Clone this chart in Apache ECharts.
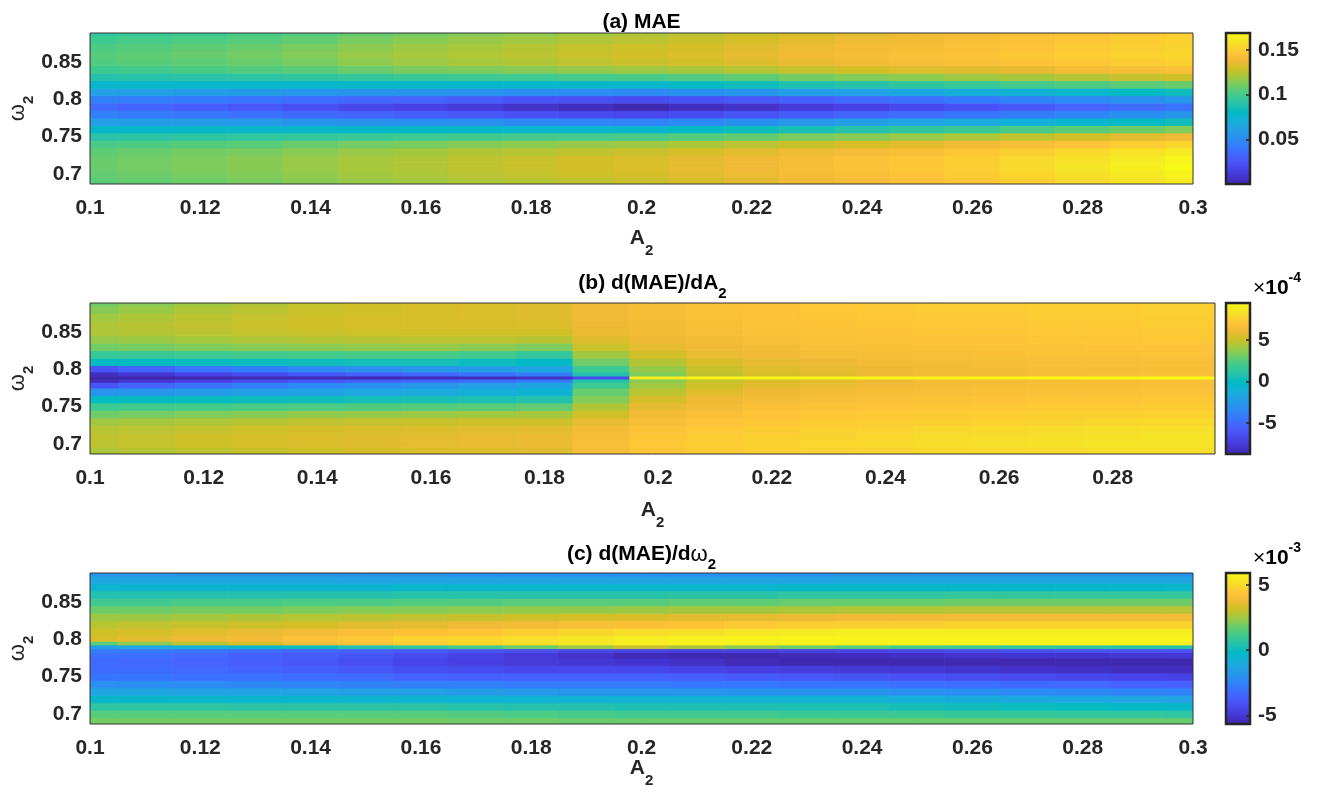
<!DOCTYPE html>
<html>
<head>
<meta charset="utf-8">
<script src="https://cdn.jsdelivr.net/npm/echarts@6/dist/echarts.min.js"></script>
<style>
  html, body { margin: 0; padding: 0; background: #ffffff; }
  #chart { width: 1320px; height: 792px; }
</style>
</head>
<body>
<div id="chart"></div>
<script>
// ---- sample grid -------------------------------------------------------
const A_COLS   = [0.10,0.11,0.12,0.13,0.14,0.15,0.16,0.17,0.18,0.19,0.20,0.21,0.22,0.23,0.24,0.25,0.26,0.27,0.28,0.29,0.30];
const A_COLS_B = [0.10,0.11,0.12,0.13,0.14,0.15,0.16,0.17,0.18,0.19,0.20,0.21,0.22,0.23,0.24,0.25,0.26,0.27,0.28,0.29];
const OMEGA_ROWS   = [0.69,0.70,0.71,0.72,0.73,0.74,0.75,0.76,0.77,0.78,0.79,0.80,0.81,0.82,0.83,0.84,0.85,0.86,0.87,0.88,0.89];
const OMEGA_ROWS_B = [0.69,0.70,0.71,0.72,0.73,0.74,0.75,0.76,0.77,0.78,0.785,0.789,0.793,0.80,0.81,0.82,0.83,0.84,0.85,0.86,0.87,0.88,0.89];
const OMEGA_ROWS_C = [0.69,0.70,0.71,0.72,0.73,0.74,0.75,0.76,0.77,0.78,0.785,0.79,0.795,0.80,0.81,0.82,0.83,0.84,0.85,0.86,0.87,0.88,0.89];

// ---- (a) MAE, one row per omega_2 (ascending), one column per A_2 ------
const MAE = [
  [.105,.107,.109,.111,.114,.117,.119,.121,.123,.125,.127,.130,.133,.136,.139,.142,.146,.150,.154,.158,.162],
  [.107,.109,.111,.113,.116,.119,.121,.124,.126,.128,.130,.133,.136,.139,.142,.145,.149,.153,.157,.162,.166],
  [.108,.110,.112,.114,.117,.120,.122,.125,.127,.129,.131,.134,.137,.140,.143,.146,.150,.154,.159,.164,.168],
  [.108,.110,.112,.114,.117,.120,.122,.125,.127,.129,.131,.134,.137,.140,.143,.146,.150,.154,.158,.162,.166],
  [.106,.108,.110,.111,.114,.117,.119,.122,.123,.125,.127,.130,.133,.136,.139,.142,.146,.150,.154,.158,.162],
  [.101,.102,.104,.105,.108,.110,.111,.114,.115,.117,.118,.121,.124,.127,.130,.133,.137,.141,.145,.149,.153],
  [.091,.092,.093,.094,.095,.097,.098,.099,.100,.100,.101,.104,.107,.111,.114,.117,.121,.125,.129,.133,.137],
  [.078,.078,.078,.078,.078,.078,.078,.078,.077,.077,.077,.080,.083,.086,.090,.093,.097,.101,.105,.109,.113],
  [.061,.060,.059,.058,.056,.054,.053,.052,.050,.048,.047,.050,.053,.057,.061,.064,.068,.072,.076,.080,.084],
  [.045,.043,.041,.038,.035,.032,.030,.027,.024,.021,.019,.022,.025,.029,.033,.036,.040,.044,.048,.052,.056],
  [.036,.033,.030,.027,.023,.019,.016,.012,.008,.005,.002,.005,.008,.012,.016,.020,.024,.028,.032,.036,.040],
  [.046,.044,.042,.040,.037,.034,.032,.029,.025,.023,.021,.024,.027,.031,.035,.038,.042,.046,.050,.053,.057],
  [.062,.061,.060,.059,.057,.056,.056,.054,.052,.051,.050,.053,.056,.060,.063,.066,.070,.073,.077,.080,.083],
  [.077,.077,.077,.077,.077,.078,.078,.078,.078,.078,.078,.081,.084,.087,.090,.093,.096,.099,.102,.105,.108],
  [.089,.090,.091,.092,.093,.095,.097,.098,.098,.100,.101,.103,.106,.110,.113,.115,.118,.120,.123,.126,.128],
  [.098,.099,.101,.103,.105,.108,.111,.112,.114,.116,.118,.120,.123,.126,.129,.131,.133,.135,.139,.141,.143],
  [.103,.105,.106,.108,.111,.115,.118,.120,.122,.125,.127,.129,.132,.135,.138,.140,.142,.144,.147,.149,.151],
  [.104,.106,.108,.110,.113,.117,.120,.122,.124,.127,.129,.131,.134,.137,.140,.142,.144,.146,.149,.151,.153],
  [.102,.104,.106,.108,.111,.115,.118,.120,.123,.126,.128,.130,.133,.136,.139,.141,.143,.145,.148,.150,.152],
  [.098,.100,.102,.104,.107,.111,.114,.117,.119,.122,.124,.127,.130,.133,.136,.138,.141,.143,.146,.149,.151],
  [.094,.096,.098,.100,.103,.107,.110,.113,.116,.119,.121,.124,.127,.130,.133,.136,.139,.141,.144,.147,.149]
];

// ---- (b) d(MAE)/dA_2 in units of 1e-4 ----------------------------------
const DMAE_DA = [
  [4.2,4.4,4.6,4.8,5.0,5.2,5.3,5.4,5.5,6.2,6.9,7.2,7.4,7.5,7.6,7.7,7.8,7.9,8.0,8.0],
  [4.6,4.8,5.0,5.2,5.4,5.5,5.6,5.7,5.8,6.4,7.0,7.3,7.5,7.7,7.8,8.0,8.1,8.2,8.3,8.3],
  [4.7,4.8,5.0,5.2,5.4,5.5,5.6,5.7,5.8,6.3,6.9,7.2,7.4,7.6,7.7,7.9,8.0,8.1,8.2,8.3],
  [4.5,4.6,4.8,5.0,5.2,5.3,5.4,5.5,5.6,6.1,6.7,7.0,7.2,7.4,7.5,7.7,7.8,7.9,8.0,8.1],
  [4.0,4.1,4.3,4.5,4.7,4.8,4.9,5.0,5.0,5.7,6.4,6.8,7.0,7.2,7.3,7.4,7.5,7.6,7.7,7.8],
  [3.0,3.1,3.3,3.5,3.7,3.8,3.9,4.0,4.1,5.1,6.1,6.5,6.8,7.0,7.1,7.2,7.3,7.4,7.4,7.5],
  [1.8,1.9,2.0,2.1,2.2,2.3,2.4,2.5,2.7,4.3,5.7,6.2,6.5,6.7,6.8,6.9,7.0,7.1,7.1,7.2],
  [0.0,0.0,0.1,0.2,0.3,0.4,0.5,0.6,0.8,3.4,5.2,5.9,6.2,6.4,6.6,6.7,6.8,6.9,6.9,7.0],
  [-2.8,-2.6,-2.4,-2.2,-2.0,-1.8,-1.5,-1.2,-0.8,2.8,4.6,5.5,5.9,6.1,6.3,6.4,6.5,6.6,6.6,6.7],
  [-6.0,-5.2,-4.5,-3.9,-3.4,-3.0,-2.6,-2.2,-1.8,1.8,4.0,5.0,5.5,5.8,6.0,6.2,6.3,6.4,6.4,6.5],
  [-8.2,-7.6,-7.0,-6.4,-5.9,-5.4,-5.0,-4.6,-4.0,0.8,3.5,4.8,5.3,5.6,5.9,6.1,6.2,6.3,6.4,6.5],
  [-8.7,-8.6,-8.6,-8.5,-8.5,-8.4,-8.3,-8.2,-8.0,-6.5,8.8,9.0,9.1,9.2,9.2,9.2,9.3,9.3,9.3,9.4],
  [-8.2,-7.6,-7.0,-6.4,-5.9,-5.4,-5.0,-4.6,-4.0,0.8,3.3,4.7,5.3,5.6,5.9,6.1,6.2,6.3,6.4,6.5],
  [-6.0,-5.2,-4.5,-3.9,-3.4,-3.0,-2.6,-2.2,-1.8,1.8,3.8,4.9,5.4,5.7,5.9,6.1,6.2,6.3,6.3,6.4],
  [0.0,0.0,0.1,0.2,0.3,0.4,0.4,0.2,-0.2,3.0,4.4,5.3,5.7,5.9,6.1,6.2,6.3,6.4,6.4,6.5],
  [1.6,1.7,1.8,1.9,2.0,2.1,2.1,1.9,1.5,4.0,5.1,5.7,6.0,6.2,6.3,6.4,6.5,6.6,6.6,6.7],
  [3.0,3.1,3.3,3.5,3.6,3.7,3.8,3.6,3.3,4.9,5.6,6.0,6.2,6.4,6.5,6.6,6.7,6.7,6.8,6.8],
  [3.8,3.9,4.1,4.3,4.4,4.5,4.6,4.6,4.5,5.5,5.9,6.2,6.4,6.6,6.7,6.8,6.8,6.9,6.9,7.0],
  [4.3,4.4,4.6,4.8,4.9,5.0,5.1,5.1,5.1,5.8,6.1,6.4,6.6,6.7,6.8,6.9,6.9,7.0,7.0,7.1],
  [4.3,4.5,4.7,4.9,5.1,5.2,5.3,5.3,5.4,5.9,6.2,6.5,6.7,6.8,6.9,7.0,7.0,7.1,7.1,7.2],
  [4.0,4.3,4.6,4.8,5.0,5.2,5.3,5.4,5.5,6.0,6.3,6.6,6.8,6.9,7.0,7.1,7.1,7.2,7.2,7.3],
  [3.5,3.9,4.3,4.6,4.9,5.1,5.3,5.4,5.5,6.0,6.3,6.6,6.8,7.0,7.1,7.2,7.2,7.3,7.3,7.4],
  [3.0,3.5,4.0,4.4,4.8,5.1,5.3,5.4,5.5,6.0,6.3,6.6,6.8,7.0,7.1,7.2,7.2,7.3,7.3,7.4]
];

// ---- (c) d(MAE)/domega_2 in units of 1e-3 ------------------------------
const DMAE_DW = [
  [1.9,1.9,1.9,1.9,1.9,1.9,1.9,1.8,1.8,1.7,1.7,1.7,1.7,1.7,1.7,1.7,1.7,1.7,1.7,1.7,1.7],
  [1.5,1.5,1.5,1.5,1.5,1.5,1.5,1.4,1.3,1.2,1.1,1.1,1.1,1.0,1.0,1.0,0.9,0.9,0.8,0.8,0.7],
  [0.7,0.7,0.7,0.6,0.6,0.6,0.6,0.5,0.4,0.4,0.3,0.3,0.3,0.3,0.3,0.2,0.1,0.0,-0.1,-0.2,-0.3],
  [-0.3,-0.3,-0.4,-0.4,-0.4,-0.5,-0.5,-0.6,-0.6,-0.7,-0.7,-0.7,-0.7,-0.7,-0.7,-0.8,-0.9,-1.0,-1.1,-1.2,-1.3],
  [-1.2,-1.2,-1.3,-1.3,-1.4,-1.5,-1.5,-1.6,-1.7,-1.8,-1.8,-1.8,-1.9,-1.9,-1.9,-2.0,-2.1,-2.2,-2.3,-2.4,-2.5],
  [-2.1,-2.1,-2.2,-2.3,-2.4,-2.5,-2.6,-2.6,-2.7,-2.7,-2.7,-2.8,-2.8,-2.9,-2.9,-3.0,-3.1,-3.2,-3.3,-3.4,-3.5],
  [-2.9,-2.9,-3.0,-3.0,-3.1,-3.2,-3.4,-3.5,-3.5,-3.5,-3.5,-3.6,-3.7,-3.8,-3.9,-4.0,-4.1,-4.2,-4.3,-4.4,-4.5],
  [-3.2,-3.2,-3.3,-3.4,-3.6,-3.8,-4.1,-4.2,-4.3,-4.3,-4.3,-4.5,-4.6,-4.7,-4.8,-4.9,-5.0,-5.1,-5.2,-5.3,-5.3],
  [-3.2,-3.3,-3.4,-3.6,-3.8,-4.1,-4.4,-4.6,-4.8,-4.9,-5.0,-5.2,-5.4,-5.5,-5.5,-5.5,-5.5,-5.5,-5.5,-5.5,-5.5],
  [-3.0,-3.1,-3.3,-3.5,-3.7,-3.9,-4.2,-4.5,-4.8,-5.1,-5.4,-5.5,-5.5,-5.4,-5.3,-5.2,-5.1,-5.0,-5.0,-4.9,-4.9],
  [-2.6,-2.7,-2.9,-3.1,-3.3,-3.5,-3.7,-3.9,-4.1,-4.3,-4.5,-4.6,-4.6,-4.5,-4.4,-4.3,-4.2,-4.1,-4.0,-4.0,-4.0],
  [-1.5,-1.2,-0.8,-0.4,0.0,0.4,0.8,1.2,1.8,2.4,3.0,2.6,2.2,1.8,1.5,1.2,1.0,0.8,0.7,0.6,0.5],
  [1.5,2.2,2.8,3.3,3.8,4.2,4.5,4.8,5.0,5.3,5.5,5.6,5.6,5.6,5.6,5.6,5.6,5.6,5.6,5.6,5.5],
  [3.3,3.5,3.7,3.9,4.2,4.4,4.7,4.9,5.1,5.3,5.5,5.6,5.7,5.7,5.7,5.7,5.7,5.7,5.7,5.7,5.7],
  [3.1,3.2,3.4,3.6,3.8,4.0,4.1,4.3,4.5,4.8,5.0,5.1,5.3,5.4,5.5,5.5,5.5,5.5,5.5,5.5,5.5],
  [2.8,2.9,3.0,3.1,3.2,3.4,3.5,3.7,3.8,4.0,4.1,4.2,4.4,4.5,4.6,4.6,4.7,4.7,4.7,4.7,4.7],
  [2.4,2.4,2.5,2.6,2.7,2.8,2.9,3.0,3.1,3.2,3.3,3.4,3.5,3.6,3.7,3.7,3.8,3.8,3.8,3.8,3.8],
  [1.8,1.8,1.9,1.9,2.0,2.1,2.1,2.2,2.3,2.3,2.4,2.5,2.5,2.6,2.7,2.7,2.8,2.8,2.8,2.8,2.8],
  [1.1,1.1,1.2,1.2,1.3,1.3,1.4,1.4,1.5,1.5,1.5,1.6,1.6,1.7,1.7,1.7,1.8,1.8,1.8,1.8,1.8],
  [0.4,0.4,0.4,0.4,0.4,0.4,0.5,0.5,0.5,0.5,0.5,0.6,0.6,0.7,0.7,0.7,0.8,0.8,0.8,0.8,0.8],
  [-0.5,-0.5,-0.5,-0.5,-0.5,-0.5,-0.4,-0.4,-0.4,-0.4,-0.4,-0.4,-0.4,-0.3,-0.3,-0.3,-0.3,-0.3,-0.3,-0.3,-0.3],
  [-1.2,-1.2,-1.2,-1.2,-1.2,-1.3,-1.3,-1.3,-1.3,-1.3,-1.3,-1.3,-1.3,-1.3,-1.2,-1.2,-1.2,-1.2,-1.2,-1.2,-1.2],
  [-1.9,-1.9,-2.0,-2.0,-2.0,-2.0,-2.0,-2.1,-2.1,-2.1,-2.1,-2.1,-2.1,-2.1,-2.0,-2.0,-2.0,-2.0,-2.0,-2.0,-2.0]
];

// ---- axis ranges, colour limits and tick labels ------------------------
const A_RANGE     = [0.1, 0.3];
const A_RANGE_B   = [0.1, 0.298];
const OMEGA_RANGE = [0.6866, 0.889];
const MAE_LIMITS  = [0, 0.169];
const DA_LIMITS   = [-8.7, 9.4];
const DW_LIMITS   = [-5.64, 5.9];
const A_TICKS     = [0.1,0.12,0.14,0.16,0.18,0.2,0.22,0.24,0.26,0.28,0.3];
const A_TICKS_B   = [0.1,0.12,0.14,0.16,0.18,0.2,0.22,0.24,0.26,0.28];
const OMEGA_TICKS = [0.7,0.75,0.8,0.85];
const MAE_TICKS   = [0.05,0.1,0.15];
const DA_TICKS    = [-5,0,5];
const DW_TICKS    = [-5,0,5];

// ---- styling -----------------------------------------------------------
const FONT = '"Liberation Sans", Arial, Helvetica, sans-serif';
const INK = '#262626';
const PARULA = ['#3e26a8','#4432cb','#4741e5','#4852f4','#4563fd','#3875fe','#2e87f7','#2796eb',
  '#20a5e3','#12b1d6','#02bac3','#24c1ae','#37c897','#57cc7a','#81cc59','#abc739','#d1bf27',
  '#f0ba36','#fec338','#fad62d','#f5e924','#f9fb15'];

const PLOT_LEFT = 90, PLOT_H = 151, CBAR_LEFT = 1226, CBAR_W = 24;
const PANEL_TOPS = [33, 303, 573];
const PANEL_WIDTHS = [1103, 1125, 1103];

// Cell edges sit half-way between neighbouring samples and are clipped to the axis range.
function edges(centers, range) {
  return centers.map((c, i) => [
    i === 0 ? range[0] : (centers[i - 1] + c) / 2,
    i === centers.length - 1 ? range[1] : (c + centers[i + 1]) / 2
  ]);
}
function cells(cols, rows, values, aRange) {
  const ce = edges(cols, aRange), re = edges(rows, OMEGA_RANGE), out = [];
  rows.forEach((w, i) => cols.forEach((a, j) => {
    out.push([a, w, values[i][j], ce[j][0], ce[j][1], re[i][0], re[i][1]]);
  }));
  return out;
}

function renderCell(params, api) {
  const p0 = api.coord([api.value(3), api.value(6)]);
  const p1 = api.coord([api.value(4), api.value(5)]);
  const c = api.visual('color');
  return {
    type: 'rect',
    shape: { x: p0[0], y: p0[1], width: p1[0] - p0[0], height: p1[1] - p0[1] },
    style: { fill: c, stroke: c, lineWidth: 0.8 }
  };
}
function renderBar(params, api) {
  const cs = params.coordSys;
  return {
    type: 'rect',
    shape: { x: cs.x, y: cs.y, width: cs.width, height: cs.height },
    style: {
      fill: new echarts.graphic.LinearGradient(0, 1, 0, 0,
        PARULA.map((c, i) => ({ offset: i / (PARULA.length - 1), color: c }))),
      stroke: INK, lineWidth: 2.5
    }
  };
}

// Rich-text styles: the main token hugs the top of the line, the subscript its bottom.
function richSub(lineH) {
  return {
    a: { fontSize: 21, fontWeight: 'bold', fontFamily: FONT, color: INK, lineHeight: lineH, verticalAlign: 'top' },
    w: { fontSize: 22, fontWeight: 'normal', fontFamily: FONT, color: INK, lineHeight: lineH, verticalAlign: 'top' },
    s: { fontSize: 15, fontWeight: 'bold', fontFamily: FONT, color: INK, lineHeight: 15, verticalAlign: 'bottom' }
  };
}
const RICH_X = richSub(30);
const RICH_T = richSub(28);
const RICH_Y = richSub(29);
const RICH_EXP = {
  x: { fontSize: 21, fontWeight: 'normal', fontFamily: FONT, color: INK, lineHeight: 21, verticalAlign: 'bottom' },
  n: { fontSize: 21, fontWeight: 'bold', fontFamily: FONT, color: INK, lineHeight: 21, verticalAlign: 'bottom' },
  e: { fontSize: 14, fontWeight: 'bold', fontFamily: FONT, color: INK, lineHeight: 28, verticalAlign: 'top' }
};
const LABEL = { fontSize: 21, fontWeight: 'bold', fontFamily: FONT, color: INK };

const grids = [], xAxes = [], yAxes = [];
const xNameGaps = [44, 46, 34];
[[A_RANGE, A_TICKS], [A_RANGE_B, A_TICKS_B], [A_RANGE, A_TICKS]].forEach(([range, ticks], k) => {
  grids.push({ left: PLOT_LEFT, top: PANEL_TOPS[k], width: PANEL_WIDTHS[k], height: PLOT_H,
    outerBoundsMode: 'none', containLabel: false,
    show: true, backgroundColor: 'transparent', borderColor: '#333333', borderWidth: 1, z: 5 });
  grids.push({ left: CBAR_LEFT, top: PANEL_TOPS[k], width: CBAR_W, height: PLOT_H,
    outerBoundsMode: 'none', containLabel: false });
  xAxes.push({
    type: 'value', gridIndex: 2 * k, min: range[0], max: range[1],
    axisLine: { show: false }, axisTick: { show: false }, splitLine: { show: false },
    axisLabel: Object.assign({ customValues: ticks, margin: 14 }, LABEL),
    name: '{a|A}{s|2}', nameLocation: 'middle', nameGap: xNameGaps[k], nameMoveOverlap: false,
    nameTextStyle: { rich: RICH_X }
  });
  xAxes.push({ type: 'value', gridIndex: 2 * k + 1, min: 0, max: 1, show: false });
});
[0, 1, 2].forEach(k => {
  yAxes.push({
    type: 'value', gridIndex: 2 * k, min: OMEGA_RANGE[0], max: OMEGA_RANGE[1],
    axisLine: { show: false, onZero: false }, axisTick: { show: false }, splitLine: { show: false },
    axisLabel: Object.assign({ customValues: OMEGA_TICKS, margin: 8 }, LABEL),
    name: '{w|ω}{s|2}', nameLocation: 'middle', nameRotate: 90, nameGap: 54, nameMoveOverlap: false,
    nameTextStyle: { rich: RICH_Y }
  });
  const [lim, ticks] = [[MAE_LIMITS, MAE_TICKS], [DA_LIMITS, DA_TICKS], [DW_LIMITS, DW_TICKS]][k];
  yAxes.push({
    type: 'value', gridIndex: 2 * k + 1, position: 'right', min: lim[0], max: lim[1], z: 6,
    axisLine: { show: false, onZero: false }, splitLine: { show: false },
    axisTick: { inside: true, length: 4, customValues: ticks, lineStyle: { color: INK, width: 1.5 } },
    axisLabel: Object.assign({ customValues: ticks, margin: 8 }, LABEL)
  });
});

const series = [
  { cols: A_COLS, rows: OMEGA_ROWS, vals: MAE, range: A_RANGE },
  { cols: A_COLS_B, rows: OMEGA_ROWS_B, vals: DMAE_DA, range: A_RANGE_B },
  { cols: A_COLS, rows: OMEGA_ROWS_C, vals: DMAE_DW, range: A_RANGE }
].map((p, k) => ({
  type: 'custom', xAxisIndex: 2 * k, yAxisIndex: 2 * k, clip: true, silent: true,
  renderItem: renderCell, encode: { x: 0, y: 1 },
  data: cells(p.cols, p.rows, p.vals, p.range)
}));
[0, 1, 2].forEach(k => series.push({
  type: 'custom', xAxisIndex: 2 * k + 1, yAxisIndex: 2 * k + 1, silent: true,
  renderItem: renderBar, data: [[0.5, 0]]
}));

const visualMap = [MAE_LIMITS, DA_LIMITS, DW_LIMITS].map((lim, k) => ({
  type: 'continuous', show: false, seriesIndex: k, dimension: 2,
  min: lim[0], max: lim[1], inRange: { color: PARULA }
}));

const titleTops = [12, 273, 544];
const titles = ['{a|(a) MAE}', '{a|(b) d(MAE)/dA}{s|2}', '{a|(c) d(MAE)/d}{w|ω}{s|2}'];
const graphic = titles.map((t, k) => ({
  type: 'text', x: PLOT_LEFT + PANEL_WIDTHS[k] / 2, y: titleTops[k], silent: true,
  style: { text: t, rich: RICH_T, align: 'center', verticalAlign: 'top' }
}));
graphic.push(
  { type: 'text', x: 1253, y: 271, silent: true,
    style: { text: '{x|×}{n|10}{e|-4}', rich: RICH_EXP, align: 'left', verticalAlign: 'top' } },
  { type: 'text', x: 1253, y: 541, silent: true,
    style: { text: '{x|×}{n|10}{e|-3}', rich: RICH_EXP, align: 'left', verticalAlign: 'top' } }
);

const chart = echarts.init(document.getElementById('chart'), null, { renderer: 'canvas' });
chart.setOption({
  animation: false,
  backgroundColor: '#ffffff',
  grid: grids,
  xAxis: xAxes,
  yAxis: yAxes,
  visualMap: visualMap,
  series: series,
  graphic: graphic
});
</script>
</body>
</html>
